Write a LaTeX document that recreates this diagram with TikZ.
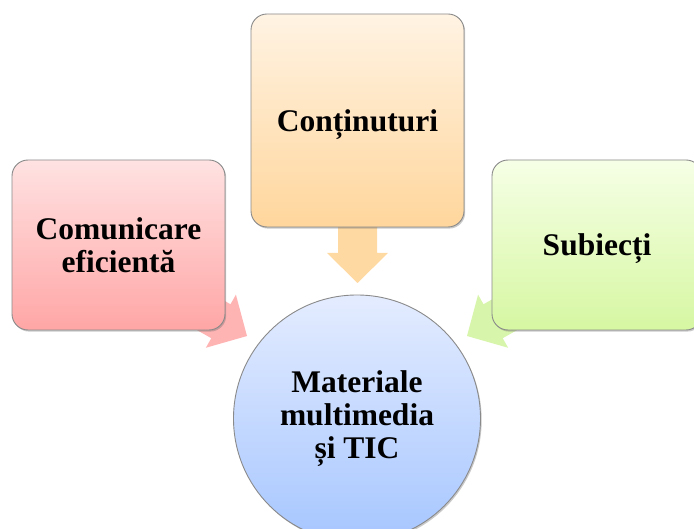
\documentclass[tikz,border=0pt]{standalone}
\usepackage{fontspec}
\setmainfont{Liberation Serif}
\usetikzlibrary{shadows}
\definecolor{edgegray}{HTML}{8A8A8A}
\definecolor{redtop}{HTML}{FFE2E2}
\definecolor{redbot}{HTML}{FFA6A6}
\definecolor{orgtop}{HTML}{FFF3E3}
\definecolor{orgbot}{HTML}{FFD69C}
\definecolor{grntop}{HTML}{F6FFE6}
\definecolor{grnbot}{HTML}{D6F7A2}
\definecolor{blutop}{HTML}{E4ECFF}
\definecolor{blubot}{HTML}{A6C6FF}
\definecolor{redarrow}{HTML}{FFB4B4}
\definecolor{orgarrow}{HTML}{FFD9A2}
\definecolor{grnarrow}{HTML}{D8F5AC}
\tikzset{
  labeltext/.style={font=\bfseries\fontsize{31.5}{33}\selectfont, align=center, text=black},
  topicbox/.style={labeltext, draw=edgegray, line width=0.9pt, rounded corners=16pt,
    minimum width=213pt, minimum height=170pt, inner sep=0pt,
    drop shadow={shadow xshift=1.2pt, shadow yshift=-1.6pt, opacity=0.35, fill=black!60}},
  hubcircle/.style={labeltext, circle, draw=edgegray, line width=0.9pt,
    minimum size=247pt, inner sep=0pt,
    drop shadow={shadow xshift=1.2pt, shadow yshift=-1.6pt, opacity=0.35, fill=black!60}}
}
% block arrow pointing along +x, tip at the local origin
\newcommand{\blockarrowpath}[1]{%
  \fill[#1] (0,0) -- (-30,30.5) -- (-30,19.5) -- (-75,19.5) -- (-75,-19.5)
    -- (-30,-19.5) -- (-30,-30.5) -- cycle;}
\begin{document}
\begin{tikzpicture}[x=1pt,y=-1pt]
\useasboundingbox (0,0) rectangle (694,529);
\clip (0,0) rectangle (694,529);
\fill[white] (0,0) rectangle (694,529);

% tips of the three block arrows
\coordinate (redtip) at (247,336);
\coordinate (orgtip) at (357.5,283);
\coordinate (grntip) at (467,336);

\begin{scope}[shift={(redtip)}, rotate=-29.5]
  \blockarrowpath{redarrow}
\end{scope}
\begin{scope}[shift={(orgtip)}, rotate=-90]
  \blockarrowpath{orgarrow}
\end{scope}
\begin{scope}[shift={(grntip)}, rotate=-150.5]
  \blockarrowpath{grnarrow}
\end{scope}

% outer topics
\node[topicbox, top color=redtop, bottom color=redbot] (com) at (118.5,245)
  {Comunicare\\eficientă};
\node[topicbox, top color=orgtop, bottom color=orgbot, minimum height=213pt,
  text depth=0pt] (cont) at (357.5,120.5)
  {Conținuturi};
\node[topicbox, top color=grntop, bottom color=grnbot, minimum width=210pt,
  text depth=0pt] (subj) at (597,245)
  {Subiecți};

% central hub
\node[hubcircle, top color=blutop, bottom color=blubot] (hub) at (357,418.5)
  {Materiale\\multimedia\\și TIC};
\end{tikzpicture}
\end{document}
